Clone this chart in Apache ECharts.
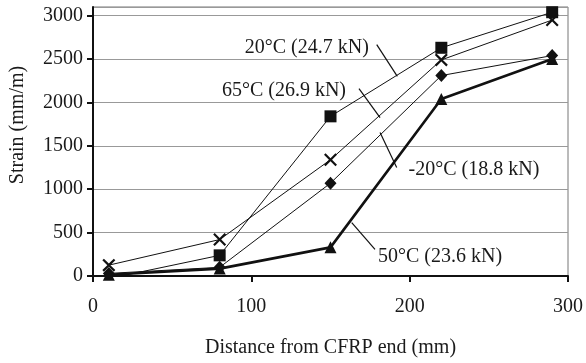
<!DOCTYPE html>
<html>
<head>
<meta charset="utf-8">
<script src="https://cdn.jsdelivr.net/npm/echarts@6/dist/echarts.min.js"></script>
<style>html,body{margin:0;padding:0;background:#fff;}#c{width:586px;height:363px;}</style>
</head>
<body>
<div id="c"></div>
<script>
var distances = [10, 80, 150, 220, 290];
var strain20 = [-30, 238, 1840, 2630, 3040];   // 20°C (24.7 kN) squares
var strain65 = [125, 420, 1340, 2490, 2950];   // 65°C (26.9 kN) crosses
var strainM20 = [30, 100, 1070, 2310, 2540];   // -20°C (18.8 kN) diamonds
var strain50 = [15, 85, 330, 2040, 2500];      // 50°C (23.6 kN) triangles
var xTicks = [0, 100, 200, 300];
var yTicks = [0, 500, 1000, 1500, 2000, 2500, 3000];

// annotation labels (data coordinates) with leader lines
var annotations = [
  {text: '20°C (24.7 kN)', at: [135, 2633], from: [179.2, 2666], to: [192.2, 2301]},
  {text: '65°C (26.9 kN)', at: [120.6, 2137], from: [168, 2160], to: [181.3, 1826]},
  {text: '-20°C (18.8 kN)', at: [240.6, 1228], from: [181.3, 1654], to: [191.8, 1251]},
  {text: '50°C (23.6 kN)', at: [219.2, 227], from: [163.4, 614], to: [178.1, 307]}
];

function pairs(ys){ return distances.map(function(x,i){ return [x, ys[i]]; }); }
var FONT = 'Liberation Serif';
var FS = 20;
var crossPath = 'path://M0,1.2 L1.2,0 L5,3.8 L8.8,0 L10,1.2 L6.2,5 L10,8.8 L8.8,10 L5,6.2 L1.2,10 L0,8.8 L3.8,5 Z';

var chart = echarts.init(document.getElementById('c'), null, {renderer: 'canvas'});
chart.setOption({
  animation: false,
  backgroundColor: '#fff',
  grid: {left: 93, right: 18, top: 7, bottom: 86, show: true, borderColor: '#777', borderWidth: 1, backgroundColor: 'transparent'},
  xAxis: {
    type: 'value', min: 0, max: 300, interval: 100,
    name: 'Distance from CFRP end (mm)', nameLocation: 'middle', nameGap: 62,
    nameTextStyle: {fontFamily: FONT, fontSize: FS, color: '#1a1a1a'},
    axisLine: {show: true, lineStyle: {color: '#111', width: 2}},
    axisTick: {show: true, inside: false, length: 6, lineStyle: {color: '#111', width: 2}},
    axisLabel: {fontFamily: FONT, fontSize: FS, color: '#1a1a1a', margin: 21,
      formatter: function(v){ return xTicks.indexOf(v) >= 0 ? String(v) : ''; }},
    splitLine: {show: false}
  },
  yAxis: {
    type: 'value', min: 0, max: 3100, interval: 500,
    axisLine: {show: true, lineStyle: {color: '#111', width: 2}},
    axisTick: {show: true, inside: false, length: 6, lineStyle: {color: '#111', width: 2}},
    axisLabel: {fontFamily: FONT, fontSize: FS, color: '#1a1a1a', margin: 10, showMaxLabel: false,
      formatter: function(v){ return yTicks.indexOf(v) >= 0 ? String(v) : ''; }},
    splitLine: {show: true, lineStyle: {color: '#999', width: 1}}
  },
  series: [
    {name: '20°C (24.7 kN)', type: 'line', data: pairs(strain20), symbol: 'rect', symbolSize: 12,
      itemStyle: {color: '#111'}, lineStyle: {color: '#111', width: 1}, z: 3},
    {name: '65°C (26.9 kN)', type: 'line', data: pairs(strain65), symbol: crossPath, symbolSize: 13,
      itemStyle: {color: '#111'}, lineStyle: {color: '#111', width: 1}, z: 3},
    {name: '-20°C (18.8 kN)', type: 'line', data: pairs(strainM20), symbol: 'diamond', symbolSize: [12, 13],
      itemStyle: {color: '#111'}, lineStyle: {color: '#111', width: 1}, z: 3},
    {name: '50°C (23.6 kN)', type: 'line', data: pairs(strain50), symbol: 'triangle', symbolSize: 12,
      itemStyle: {color: '#111'}, lineStyle: {color: '#111', width: 2.6}, z: 4}
  ]
});

var graphics = [{
  type: 'text', x: 18, y: 125, rotation: Math.PI / 2,
  style: {text: 'Strain (mm/m)', font: FS + 'px "' + FONT + '"', fill: '#1a1a1a', textAlign: 'center', textVerticalAlign: 'middle'}
}];
annotations.forEach(function(a){
  var p = chart.convertToPixel({gridIndex: 0}, a.at);
  var f = chart.convertToPixel({gridIndex: 0}, a.from);
  var t = chart.convertToPixel({gridIndex: 0}, a.to);
  graphics.push({type: 'text', x: p[0], y: p[1], z: 10,
    style: {text: a.text, font: FS + 'px "' + FONT + '"', fill: '#1a1a1a', textAlign: 'center', textVerticalAlign: 'middle',
      backgroundColor: '#fff'}});
  graphics.push({type: 'line', z: 10, shape: {x1: f[0], y1: f[1], x2: t[0], y2: t[1]}, style: {stroke: '#111', lineWidth: 1.2}});
});
chart.setOption({graphic: graphics});
</script>
</body>
</html>
